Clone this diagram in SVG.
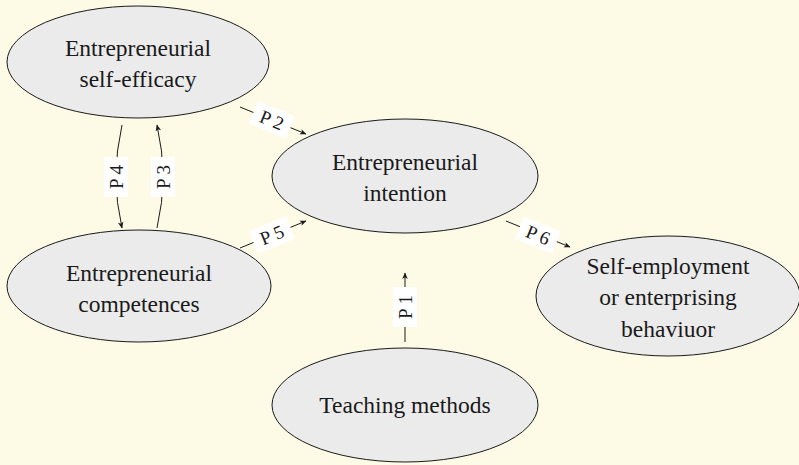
<svg xmlns="http://www.w3.org/2000/svg" width="799" height="465" viewBox="0 0 799 465">
<style>
.node ellipse{fill:#ebebeb;stroke:#1a1a1a;stroke-width:1}
.node text{font-family:"Liberation Serif","DejaVu Serif",serif;font-size:23.5px;fill:#1a1a1a;text-anchor:middle}
.edge{fill:none;stroke:#1a1a1a;stroke-width:1}
.lbl rect{fill:#ffffff;stroke:none}
.lbl text{font-family:"Liberation Serif","DejaVu Serif",serif;font-size:19px;fill:#1a1a1a;text-anchor:middle}
</style>
<defs>
<marker id="arr" viewBox="-7 -4 8 8" refX="0" refY="0" markerWidth="8" markerHeight="8" markerUnits="userSpaceOnUse" orient="auto">
<path d="M0.5,0 L-6,-2.8 L-4.3,0 L-6,2.8 Z" fill="#1a1a1a"/>
</marker>
</defs>
<rect x="0" y="0" width="799" height="465" fill="#fdfbe6"/>

<g id="n-selfefficacy" class="node">
<ellipse cx="138" cy="62" rx="131" ry="56"/>
<text x="138" y="56">Entrepreneurial</text>
<text x="138" y="87">self-efficacy</text>
</g>
<g id="n-intention" class="node">
<ellipse cx="405" cy="176" rx="133" ry="57"/>
<text x="405" y="170">Entrepreneurial</text>
<text x="405" y="201">intention</text>
</g>
<g id="n-competences" class="node">
<ellipse cx="139" cy="286" rx="132" ry="56"/>
<text x="139" y="281">Entrepreneurial</text>
<text x="139" y="312">competences</text>
</g>
<g id="n-selfemployment" class="node">
<ellipse cx="668" cy="296" rx="132" ry="60"/>
<text x="668" y="274">Self-employment</text>
<text x="668" y="305">or enterprising</text>
<text x="668" y="337">behaviuor</text>
</g>
<g id="n-teaching" class="node">
<ellipse cx="405" cy="405" rx="133" ry="57"/>
<text x="405" y="413">Teaching methods</text>
</g>

<g id="connectors">
<path class="edge" d="M240,107 L306,134" marker-end="url(#arr)"/>
<g class="lbl" transform="translate(272,120) rotate(22.5)"><rect x="-20" y="-12" width="40" height="24"/><text x="0" y="6.5">P 2</text></g>

<path class="edge" d="M240,248 L306,221" marker-end="url(#arr)"/>
<g class="lbl" transform="translate(272,235) rotate(-22.5)"><rect x="-20" y="-12" width="40" height="24"/><text x="0" y="6.5">P 5</text></g>

<path class="edge" d="M506,221 L570,247" marker-end="url(#arr)"/>
<g class="lbl" transform="translate(538,235) rotate(22)"><rect x="-20" y="-12" width="40" height="24"/><text x="0" y="6.5">P 6</text></g>

<path class="edge" d="M405,342 L405,273" marker-end="url(#arr)"/>
<g class="lbl" transform="translate(405,307) rotate(-90)"><rect x="-20" y="-12" width="40" height="24"/><text x="0" y="6.5">P 1</text></g>

<path class="edge" d="M122,125 Q110,177 122,228" marker-end="url(#arr)"/>
<g class="lbl" transform="translate(116,177) rotate(-90)"><rect x="-20" y="-12" width="40" height="24"/><text x="0" y="6.5">P 4</text></g>

<path class="edge" d="M157,228 Q169,177 157,125" marker-end="url(#arr)"/>
<g class="lbl" transform="translate(163,177) rotate(-90)"><rect x="-20" y="-12" width="40" height="24"/><text x="0" y="6.5">P 3</text></g>
</g>
</svg>
